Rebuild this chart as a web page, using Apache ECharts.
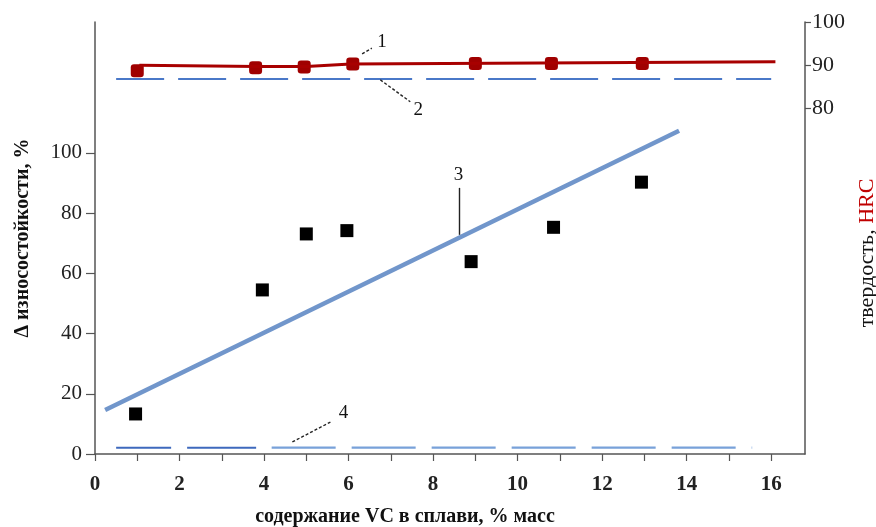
<!DOCTYPE html>
<html>
<head>
<meta charset="utf-8">
<script src="https://cdn.jsdelivr.net/npm/echarts@6/dist/echarts.min.js"></script>
<style>
html,body{margin:0;padding:0;background:#fff;}
#chart{width:876px;height:527px;}
</style>
</head>
<body>
<div id="chart"></div>
<script>
// ---- data ----
const xTicks = [0, 2, 4, 6, 8, 10, 12, 14, 16];
const xMinorTicks = [0,1,2,3,4,5,6,7,8,9,10,11,12,13,14,15,16];
const leftTicks = [0, 20, 40, 60, 80, 100];
const rightTicks = [80, 90, 100];

// curve 1: hardness HRC (right axis)
const hardnessX = [1.0, 3.8, 4.95, 6.1, 9.0, 10.8, 12.95];
const hardnessY = [88.7, 89.4, 89.6, 90.3, 90.4, 90.4, 90.4];
const hardnessLineX = [1.05, 3.85, 5.0, 6.05, 16.1];
const hardnessLineY = [90.0, 89.7, 89.7, 90.3, 90.8];
// curve 2: base hardness (right axis)
const baseHardnessX = [0.5, 16.0];
const baseHardnessY = [86.8, 86.8];
// points + curve 3: wear resistance increase (left axis)
const wearX = [0.96, 3.96, 5.0, 5.96, 8.9, 10.85, 12.93];
const wearY = [13.3, 54.5, 73.1, 74.2, 63.9, 75.3, 90.3];
const wearTrendX = [0.24, 13.82];
const wearTrendY = [14.6, 107.4];
// curve 4: base wear (left axis)
const baseWearX1 = [0.5, 3.85];
const baseWearX2 = [4.18, 15.55];
const baseWearY = [2.1, 2.1];
// curve number labels and leaders (left-axis data units)
const labelNames = ['1', '2', '3', '4'];
const labelX = [6.79, 7.65, 8.6, 5.88];
const labelY = [137.0, 114.3, 92.7, 13.6];
const leaderFrom = [[6.32, 132.9], [6.75, 124.3], [8.63, 88.4], [4.67, 4.0]];
const leaderTo = [[6.55, 134.8], [7.46, 117.0], [8.63, 72.8], [5.57, 10.6]];
const leaderDashed = [true, true, false, true];

const zip = (xs, ys) => xs.map((x, i) => [x, ys[i]]);

const serif = '"Liberation Serif", "Times New Roman", serif';
const axisColor = '#555';

const chart = echarts.init(document.getElementById('chart'), null, {renderer: 'canvas'});
chart.setOption({
  animation: false,
  backgroundColor: '#fff',
  grid: {left: 95, right: 71, top: 22, bottom: 73, containLabel: false, outerBoundsMode: 'none'},
  xAxis: {
    type: 'value', min: 0, max: 16.8,
    name: 'содержание VC в сплави, % масс',
    nameLocation: 'middle', nameGap: 53,
    nameTextStyle: {fontFamily: serif, fontSize: 20, fontWeight: 'bold', color: '#111', padding: [0, 90, 0, 0]},
    axisLine: {lineStyle: {color: axisColor, width: 1.5}},
    axisTick: {show: true, length: 7, customValues: xMinorTicks, lineStyle: {color: axisColor, width: 1.2}},
    axisLabel: {customValues: xTicks, margin: 20, fontFamily: serif, fontSize: 21, fontWeight: 'bold', color: '#222'},
    splitLine: {show: false}
  },
  yAxis: [{
    type: 'value', min: 0, max: 143.5, position: 'left',
    name: 'Δ износостойкости, %',
    nameLocation: 'middle', nameGap: 62, nameRotate: 90,
    nameTextStyle: {fontFamily: serif, fontSize: 20, fontWeight: 'bold', color: '#111'},
    axisLine: {show: true, lineStyle: {color: axisColor, width: 1.5}},
    axisTick: {show: true, length: 9, customValues: leftTicks, lineStyle: {color: axisColor, width: 1.2}},
    axisLabel: {customValues: leftTicks, margin: 13, fontFamily: serif, fontSize: 21, color: '#222'},
    splitLine: {show: false}
  }, {
    type: 'value', min: 0, max: 100, position: 'right',
    name: '{a|твердость,} {b|HRC}',
    nameLocation: 'middle', nameGap: 47, nameRotate: 90,
    nameTextStyle: {fontFamily: serif, fontSize: 22, color: '#111', padding: [0, 30, 0, 0],
      rich: {a: {fontFamily: serif, fontSize: 22, color: '#111'}, b: {fontFamily: serif, fontSize: 22, color: '#c00000'}}},
    axisLine: {show: true, lineStyle: {color: axisColor, width: 1.5}},
    axisTick: {show: true, length: 6, customValues: rightTicks, lineStyle: {color: axisColor, width: 1.2}},
    axisLabel: {customValues: rightTicks, margin: 7, fontFamily: serif, fontSize: 22, color: '#222'},
    splitLine: {show: false}
  }],
  series: [
    {
      name: 'base wear dark', type: 'line', yAxisIndex: 0, symbol: 'none',
      data: zip(baseWearX1, baseWearY),
      lineStyle: {color: '#3e69bd', width: 2, type: [55, 16, 69, 14]}
    },
    {
      name: 'base wear light', type: 'line', yAxisIndex: 0, symbol: 'none',
      data: zip(baseWearX2, baseWearY),
      lineStyle: {color: '#78a1d9', width: 2.2, type: [64, 16]}
    },
    {
      name: 'wear trend', type: 'line', yAxisIndex: 0, symbol: 'none',
      data: zip(wearTrendX, wearTrendY),
      lineStyle: {color: '#7196cb', width: 4.5}
    },
    {
      name: 'wear', type: 'scatter', yAxisIndex: 0, symbol: 'rect', symbolSize: 13,
      data: zip(wearX, wearY),
      itemStyle: {color: '#000', opacity: 1}
    },
    {
      name: 'base hardness', type: 'line', yAxisIndex: 1, symbol: 'none',
      data: zip(baseHardnessX, baseHardnessY),
      lineStyle: {color: '#4a78c8', width: 2, type: [48, 14]}
    },
    {
      name: 'hardness line', type: 'line', yAxisIndex: 1, symbol: 'none',
      data: zip(hardnessLineX, hardnessLineY),
      lineStyle: {color: '#a80000', width: 3}
    },
    {
      name: 'hardness', type: 'scatter', yAxisIndex: 1, symbol: 'roundRect', symbolSize: 13,
      data: zip(hardnessX, hardnessY),
      itemStyle: {color: '#a00000', opacity: 1}
    },
    {
      name: 'labels', type: 'scatter', yAxisIndex: 0, symbolSize: 0,
      data: labelNames.map((n, i) => ({name: n, value: [labelX[i], labelY[i]]})),
      itemStyle: {opacity: 1},
      label: {show: true, position: 'inside', formatter: '{b}', fontFamily: serif, fontSize: 19, color: '#111'},
      silent: true,
      markLine: {
        silent: true, symbol: 'none', animation: false,
        label: {show: false},
        data: leaderFrom.map((p, i) => [
          {coord: p, lineStyle: {color: '#222', width: 1.4, type: leaderDashed[i] ? [3, 2] : 'solid'}},
          {coord: leaderTo[i]}
        ])
      }
    }
  ]
});
</script>
</body>
</html>
